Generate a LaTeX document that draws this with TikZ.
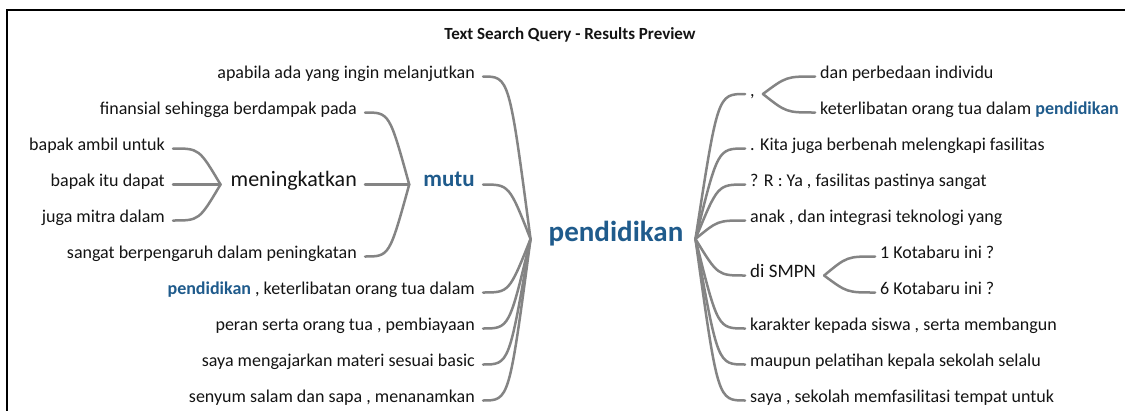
\documentclass[tikz,border=0pt]{standalone}
\usepackage{fontspec}
\setmainfont{Carlito}
\usetikzlibrary{calc}
\definecolor{hlc}{RGB}{31,91,140}
\definecolor{lnc}{RGB}{132,132,132}
\definecolor{txc}{RGB}{20,20,20}
\newcommand\lconn[2]{\draw[conn] let \p1=($(#1.mid east)+(8,0)$), \p2=(#2) in (\p1) .. controls ({0.45*\x1+0.55*\x2},\y1) .. (\p2);}
\newcommand\rconn[2]{\draw[conn] let \p1=(#1), \p2=($(#2.mid west)+(-5,0)$) in (\p1) .. controls ({0.55*\x1+0.45*\x2},\y2) .. (\p2);}
\begin{document}
\begin{tikzpicture}[x=1pt,y=-1pt,
  lt/.style={anchor=mid east, inner sep=0pt, font=\fontsize{18}{20}\selectfont, text=txc},
  rt/.style={anchor=mid west, inner sep=0pt, font=\fontsize{18}{20}\selectfont, text=txc},
  conn/.style={draw=lnc, line width=2.5pt, line cap=round}]
\fill[white] (0,0) rectangle (1125,410);
\useasboundingbox (0,0) rectangle (1125,410);
\draw[line width=2pt] (7,411) -- (7,10) -- (1126,10);
\node[font=\fontsize{17}{19}\selectfont\bfseries, text=txc] (title) at (570,35) {Text Search Query - Results Preview};
% left side
\node[lt] (a0) at (475,76.5) {apabila ada yang ingin melanjutkan};
\node[lt] (b1) at (357,112.5) {finansial sehingga berdampak pada};
\node[lt] (c2) at (165,148.5) {bapak ambil untuk};
\node[lt] (c3) at (165,184.5) {bapak itu dapat};
\node[lt, font=\fontsize{22}{24}\selectfont] (men) at (357,184.5) {meningkatkan};
\node[lt, font=\fontsize{23}{25}\selectfont\bfseries, text=hlc] (mutu) at (475,184.5) {mutu};
\node[lt] (c4) at (165,220.5) {juga mitra dalam};
\node[lt] (b5) at (357,256.5) {sangat berpengaruh dalam peningkatan};
\node[lt] (a6) at (475,292.5) {\textcolor{hlc}{\bfseries pendidikan} , keterlibatan orang tua dalam};
\node[lt] (a7) at (475,328.5) {peran serta orang tua , pembiayaan};
\node[lt] (a8) at (475,364.5) {saya mengajarkan materi sesuai basic};
\node[lt] (a9) at (475,400.5) {senyum salam dan sapa , menanamkan};
% root
\node[font=\fontsize{29}{31}\selectfont\bfseries, text=hlc, anchor=mid, inner sep=0pt] (root) at (616,239) {pendidikan};
% right side
\node[rt] (comma) at (750,94) {,};
\node[rt] (e0) at (820,76.5) {dan perbedaan individu};
\node[rt] (e1) at (820,112.5) {keterlibatan orang tua dalam \textcolor{hlc}{\bfseries pendidikan}};
\node[rt] (d2) at (750,148.5) {. Kita juga berbenah melengkapi fasilitas};
\node[rt] (d3) at (750,184.5) {? R : Ya , fasilitas pastinya sangat};
\node[rt] (d4) at (750,220.5) {anak , dan integrasi teknologi yang};
\node[rt, font=\fontsize{19}{21}\selectfont] (smpn) at (750,275.5) {di SMPN};
\node[rt] (f5) at (880,256.5) {1 Kotabaru ini ?};
\node[rt] (f6) at (880,292.5) {6 Kotabaru ini ?};
\node[rt] (d7) at (750,328.5) {karakter kepada siswa , serta membangun};
\node[rt] (d8) at (750,364.5) {maupun pelatihan kepala sekolah selalu};
\node[rt] (d9) at (750,400.5) {saya , sekolah memfasilitasi tempat untuk};
% hubs
\coordinate (hubMen) at ($(men.mid west)+(-10,0)$);
\coordinate (hubMutu) at ($(mutu.mid west)+(-14,0)$);
\coordinate (hubL) at ($(root.mid west)+(-18,0)$);
\coordinate (hubR) at ($(root.mid east)+(12,0)$);
\coordinate (hubComma) at ($(comma.mid east)+(8,0)$);
\coordinate (hubSmpn) at ($(smpn.mid east)+(8,0)$);
% connectors
\lconn{c2}{hubMen}
\lconn{c3}{hubMen}
\lconn{c4}{hubMen}
\lconn{b1}{hubMutu}
\lconn{men}{hubMutu}
\lconn{b5}{hubMutu}
\lconn{a0}{hubL}
\lconn{mutu}{hubL}
\lconn{a6}{hubL}
\lconn{a7}{hubL}
\lconn{a8}{hubL}
\lconn{a9}{hubL}
\rconn{hubR}{comma}
\rconn{hubR}{d2}
\rconn{hubR}{d3}
\rconn{hubR}{d4}
\rconn{hubR}{smpn}
\rconn{hubR}{d7}
\rconn{hubR}{d8}
\rconn{hubR}{d9}
\rconn{hubComma}{e0}
\rconn{hubComma}{e1}
\rconn{hubSmpn}{f5}
\rconn{hubSmpn}{f6}
\end{tikzpicture}
\end{document}
